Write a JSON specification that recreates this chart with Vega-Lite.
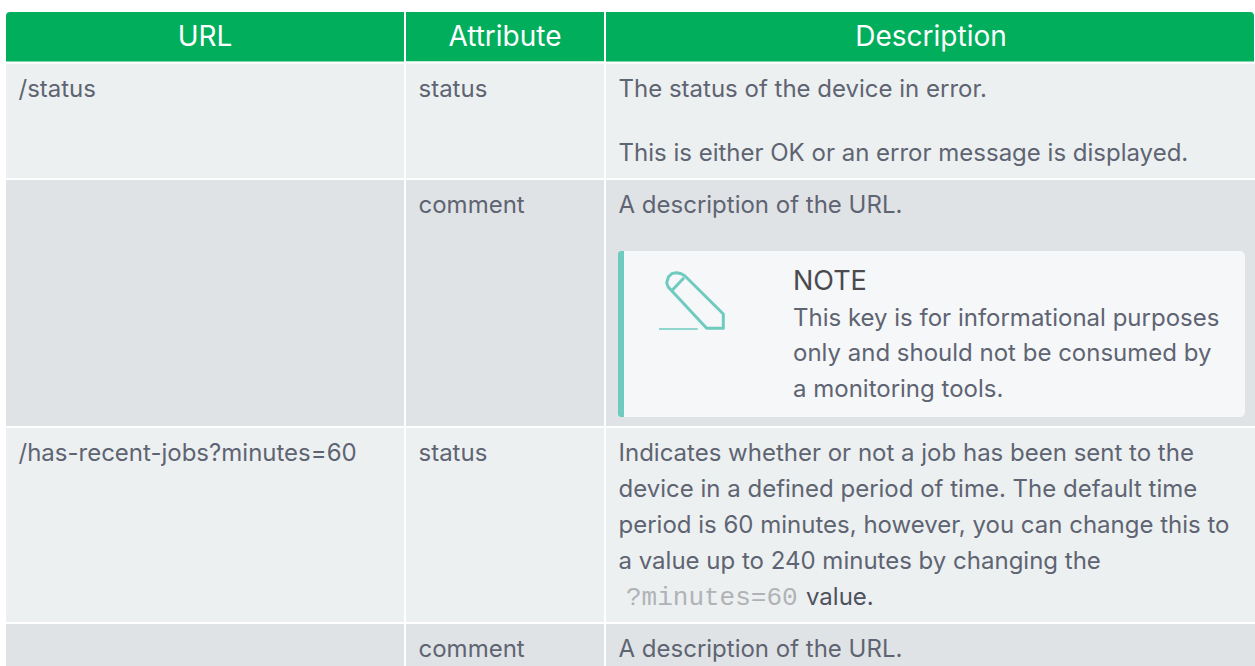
{
"$schema":"https://vega.github.io/schema/vega-lite/v6.json",
"width":1255,"height":666,"padding":0,"autosize":{"type":"none"},
"background":"#ffffff",
"config":{"view":{"stroke":null}},
"datasets":{
"cells":[
{"kind":"header","c0":1,"c1":2,"r0":0,"r1":1},
{"kind":"row1","c0":0,"c1":1,"r0":1,"r1":2},
{"kind":"row1","c0":1,"c1":2,"r0":1,"r1":2},
{"kind":"row1","c0":2,"c1":3,"r0":1,"r1":2},
{"kind":"row2","c0":0,"c1":1,"r0":2,"r1":3},
{"kind":"row2","c0":1,"c1":2,"r0":2,"r1":3},
{"kind":"row2","c0":2,"c1":3,"r0":2,"r1":3},
{"kind":"row1","c0":0,"c1":1,"r0":3,"r1":4},
{"kind":"row1","c0":1,"c1":2,"r0":3,"r1":4},
{"kind":"row1","c0":2,"c1":3,"r0":3,"r1":4},
{"kind":"row2","c0":0,"c1":1,"r0":4,"r1":5},
{"kind":"row2","c0":1,"c1":2,"r0":4,"r1":5},
{"kind":"row2","c0":2,"c1":3,"r0":4,"r1":5}
],
"lines":[
{"style":"body","col":0,"line":1,"text":"/status"},
{"style":"body","col":1,"line":1,"text":"status"},
{"style":"body","col":2,"line":1,"text":"The status of the device in error."},
{"style":"body","col":2,"line":2,"text":"This is either OK or an error message is displayed."},
{"style":"body","col":1,"line":3,"text":"comment"},
{"style":"body","col":2,"line":3,"text":"A description of the URL."},
{"style":"body","col":0,"line":8,"text":"/has-recent-jobs?minutes=60"},
{"style":"body","col":1,"line":8,"text":"status"},
{"style":"body","col":2,"line":8,"text":"Indicates whether or not a job has been sent to the"},
{"style":"body","col":2,"line":9,"text":"device in a defined period of time. The default time"},
{"style":"body","col":2,"line":10,"text":"period is 60 minutes, however, you can change this to"},
{"style":"body","col":2,"line":11,"text":"a value up to 240 minutes by changing the"},
{"style":"body","col":1,"line":13,"text":"comment"},
{"style":"body","col":2,"line":13,"text":"A description of the URL."}
],
"notes":[
{"style":"title","line":4,"text":"NOTE"},
{"style":"body","line":5,"text":"This key is for informational purposes"},
{"style":"body","line":6,"text":"only and should not be consumed by"},
{"style":"body","line":7,"text":"a monitoring tools."}
],
"icon":[
{"part":"pencil","i":0,"ix":22.3,"iy":27.6},
{"part":"pencil","i":1,"ix":68.9,"iy":77.7},
{"part":"pencil","i":2,"ix":91.1,"iy":77.7},
{"part":"pencil","i":3,"ix":91.1,"iy":58.7},
{"part":"pencil","i":4,"ix":40,"iy":8},
{"part":"pencil","i":5,"ix":35,"iy":5},
{"part":"pencil","i":6,"ix":28.9,"iy":3.6},
{"part":"pencil","i":7,"ix":23,"iy":4.5},
{"part":"pencil","i":8,"ix":18,"iy":9},
{"part":"pencil","i":9,"ix":15.6,"iy":16.9},
{"part":"pencil","i":10,"ix":17.5,"iy":22.5},
{"part":"pencil","i":11,"ix":22.3,"iy":27.6},
{"part":"divider","i":0,"ix":22.3,"iy":27.6},
{"part":"divider","i":1,"ix":38.7,"iy":10.3}
]
},
"layer":[
{"data":{"name":"cells"},
 "mark":{"type":"rect","stroke":"#ffffff","strokeWidth":2},
 "encoding":{
  "x":{"field":"c0","type":"quantitative","axis":null,"scale":{"domain":[0,1,2,3],"range":[5,405,605,1257]}},
  "x2":{"field":"c1"},
  "y":{"field":"r0","type":"quantitative","axis":null,"scale":{"domain":[0,1,2,3,4,5],"range":[11,62.5,179,427,623,670]}},
  "y2":{"field":"r1"},
  "color":{"field":"kind","type":"nominal","legend":null,"scale":{"domain":["header","row1","row2"],"range":["#00ae5c","#ecf0f1","#dfe3e6"]}}
 }},
{"data":{"values":[{"kind":"header","c0":0,"c1":1,"r0":0,"r1":1}]},
 "mark":{"type":"rect","fill":"#00ae5c","stroke":"#ffffff","strokeWidth":2,"cornerRadiusTopLeft":5},
 "encoding":{
  "x":{"field":"c0","type":"quantitative","axis":null,"scale":{"domain":[0,1,2,3],"range":[5,405,605,1257]}},
  "x2":{"field":"c1"},
  "y":{"field":"r0","type":"quantitative","axis":null,"scale":{"domain":[0,1,2,3,4,5],"range":[11,62.5,179,427,623,670]}},
  "y2":{"field":"r1"}
 }},
{"data":{"values":[{"kind":"header","c0":2,"c1":3,"r0":0,"r1":1}]},
 "mark":{"type":"rect","fill":"#00ae5c","stroke":"#ffffff","strokeWidth":2,"cornerRadiusTopRight":5},
 "encoding":{
  "x":{"field":"c0","type":"quantitative","axis":null,"scale":{"domain":[0,1,2,3],"range":[5,405,605,1255]}},
  "x2":{"field":"c1"},
  "y":{"field":"r0","type":"quantitative","axis":null,"scale":{"domain":[0,1,2,3,4,5],"range":[11,62.5,179,427,623,670]}},
  "y2":{"field":"r1"}
 }},
{"data":{"values":[{"part":"box","n0":0,"n1":2}]},
 "mark":{"type":"rect","fill":"#f5f7f9","cornerRadius":5},
 "encoding":{
  "x":{"field":"n0","type":"quantitative","axis":null,"scale":{"domain":[0,1,2],"range":[618,624,1245]}},
  "x2":{"field":"n1"},
  "y":{"datum":0,"type":"quantitative","axis":null,"scale":{"domain":[0,1],"range":[251,417]}},
  "y2":{"datum":1}
 }},
{"data":{"values":[{"part":"accent","n0":0,"n1":1}]},
 "mark":{"type":"rect","fill":"#6fcbbf","cornerRadiusTopLeft":4,"cornerRadiusBottomLeft":4},
 "encoding":{
  "x":{"field":"n0","type":"quantitative","axis":null,"scale":{"domain":[0,1,2],"range":[618,624,1245]}},
  "x2":{"field":"n1"},
  "y":{"datum":0,"type":"quantitative","axis":null,"scale":{"domain":[0,1],"range":[251,417]}},
  "y2":{"datum":1}
 }},
{"data":{"name":"icon"},
 "mark":{"type":"line","color":"#6fcbbf","strokeWidth":3,"strokeJoin":"round"},
 "encoding":{
  "x":{"field":"ix","type":"quantitative","axis":null,"scale":{"domain":[0,100],"range":[655,730]}},
  "y":{"field":"iy","type":"quantitative","axis":null,"scale":{"domain":[0,100],"range":[270,345]}},
  "detail":{"field":"part"},
  "order":{"field":"i"}
 }},
{"data":{"values":[{"ix":5.3,"iy":78.7},{"ix":57,"iy":78.7}]},
 "mark":{"type":"line","color":"#6fcbbf","strokeWidth":1.5},
 "encoding":{
  "x":{"field":"ix","type":"quantitative","axis":null,"scale":{"domain":[0,100],"range":[655,730]}},
  "y":{"field":"iy","type":"quantitative","axis":null,"scale":{"domain":[0,100],"range":[270,345]}}
 }},
{"data":{"values":[{"col":0.5,"line":0,"text":"URL"},{"col":1.5,"line":0,"text":"Attribute"},{"col":2.5,"line":0,"text":"Description"}]},
 "mark":{"type":"text","align":"center","baseline":"alphabetic","font":"Inter","fontSize":28,"fill":"#ffffff"},
 "encoding":{
  "x":{"field":"col","type":"quantitative","axis":null,"scale":{"domain":[0,1,2,3],"range":[5,405,605,1257]}},
  "y":{"field":"line","type":"quantitative","axis":null,"scale":{"domain":[0,1],"range":[46,97]}},
  "text":{"field":"text"}
 }},
{"data":{"name":"lines"},
 "mark":{"type":"text","align":"left","baseline":"alphabetic","font":"Inter","fontSize":24,"fill":"#5f6472","dx":13.5},
 "encoding":{
  "x":{"field":"col","type":"quantitative","axis":null,"scale":{"domain":[0,1,2,3],"range":[5,405,605,1257]}},
  "y":{"field":"line","type":"quantitative","axis":null,"scale":{"domain":[0,1,2,3,4,5,6,7,8,9,10,11,12,13],"range":[46,97,161,213,290,326,361,397,461,497,533,569,605,657]}},
  "text":{"field":"text"}
 }},
{"data":{"name":"notes"},"transform":[{"filter":"datum.style==='body'"}],
 "mark":{"type":"text","align":"left","baseline":"alphabetic","font":"Inter","fontSize":24,"fill":"#5f6472"},
 "encoding":{
  "x":{"datum":0,"type":"quantitative","axis":null,"scale":{"domain":[0,1],"range":[793,1245]}},
  "y":{"field":"line","type":"quantitative","axis":null,"scale":{"domain":[0,1,2,3,4,5,6,7,8,9,10,11,12,13],"range":[46,97,161,213,290,326,361,397,461,497,533,569,605,657]}},
  "text":{"field":"text"}
 }},
{"data":{"name":"notes"},"transform":[{"filter":"datum.style==='title'"}],
 "mark":{"type":"text","align":"left","baseline":"alphabetic","font":"Inter","fontSize":27,"fill":"#4a4a4f"},
 "encoding":{
  "x":{"datum":0,"type":"quantitative","axis":null,"scale":{"domain":[0,1],"range":[793,1245]}},
  "y":{"field":"line","type":"quantitative","axis":null,"scale":{"domain":[0,1,2,3,4,5,6,7,8,9,10,11,12,13],"range":[46,97,161,213,290,326,361,397,461,497,533,569,605,657]}},
  "text":{"field":"text"}
 }},
{"data":{"values":[{"line":12,"text":"?minutes=60"}]},
 "mark":{"type":"text","align":"left","baseline":"alphabetic","font":"Liberation Mono","fontSize":26,"fill":"#b0b3b6"},
 "encoding":{
  "x":{"datum":0,"type":"quantitative","axis":null,"scale":{"domain":[0,1],"range":[626,1245]}},
  "y":{"field":"line","type":"quantitative","axis":null,"scale":{"domain":[0,1,2,3,4,5,6,7,8,9,10,11,12,13],"range":[46,97,161,213,290,326,361,397,461,497,533,569,605,657]}},
  "text":{"field":"text"}
 }},
{"data":{"values":[{"line":12,"text":"value."}]},
 "mark":{"type":"text","align":"left","baseline":"alphabetic","font":"Inter","fontSize":24,"fill":"#4f525c"},
 "encoding":{
  "x":{"datum":0,"type":"quantitative","axis":null,"scale":{"domain":[0,1],"range":[806,1245]}},
  "y":{"field":"line","type":"quantitative","axis":null,"scale":{"domain":[0,1,2,3,4,5,6,7,8,9,10,11,12,13],"range":[46,97,161,213,290,326,361,397,461,497,533,569,605,657]}},
  "text":{"field":"text"}
 }}
],
"resolve":{"scale":{"x":"independent","y":"independent","color":"independent"}}
}
